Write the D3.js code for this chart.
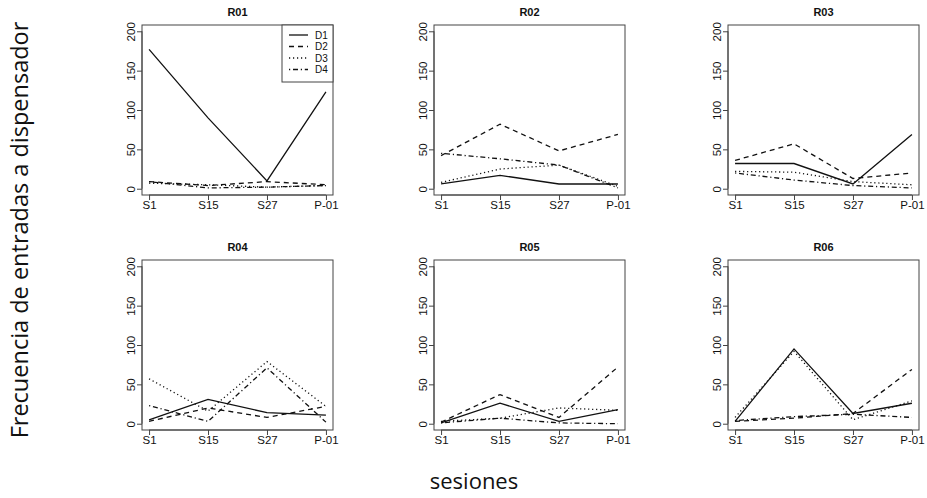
<!DOCTYPE html>
<html>
<head>
<meta charset="utf-8">
<script src="https://cdn.jsdelivr.net/npm/d3@7"></script>
<style>
  body { margin: 0; background: #fff; }
  svg { display: block; }
</style>
</head>
<body>
<svg></svg>
<script>
const sessions = ["S1", "S15", "S27", "P-01"];
const series = ["D1", "D2", "D3", "D4"];
const panelNames = ["R01", "R02", "R03", "R04", "R05", "R06"];
const yTicks = [0, 50, 100, 150, 200];

// one row per series (D1..D4), one value per session
const r01 = [[177, 90, 10, 123], [9, 4, 9, 5], [7, 5, 2, 4], [9, 1, 2, 4]];
const r02 = [[6, 17, 6, 6], [42, 82, 48, 69], [8, 25, 30, 3], [45, 38, 30, 1]];
const r03 = [[32, 32, 6, 69], [36, 57, 13, 20], [22, 21, 9, 5], [20, 11, 4, 1]];
const r04 = [[5, 31, 14, 11], [3, 20, 8, 22], [57, 16, 79, 22], [23, 3, 71, 2]];
const r05 = [[1, 26, 3, 18], [2, 37, 8, 72], [3, 7, 20, 17], [1, 7, 1, 0]];
const r06 = [[3, 95, 13, 26], [3, 7, 13, 69], [8, 92, 5, 29], [4, 9, 12, 8]];
const panelData = [r01, r02, r03, r04, r05, r06];

const svgWidth = 927;
const svgHeight = 498;
const svg = d3.select("svg")
    .attr("width", svgWidth)
    .attr("height", svgHeight);

const colLeft = [142, 434, 728];
const rowTop = [25, 260];
const boxW = 191;
const boxH = 170;

const dashes = [null, "5,4", "1.2,2.8", "1.2,2.8,5,2.8"];
const tickFont = "'Liberation Sans', Arial, sans-serif";

panelNames.forEach((name, p) => {
    const left = colLeft[p % 3];
    const top = rowTop[Math.floor(p / 3)];

    const x = d3.scaleLinear().domain([0.88, 4.12]).range([left, left + boxW]);
    const y = d3.scaleLinear().domain([-8, 208]).range([top + boxH, top]);

    const g = svg.append("g");

    // box
    g.append("rect")
        .attr("x", left)
        .attr("y", top)
        .attr("width", boxW)
        .attr("height", boxH)
        .attr("fill", "none")
        .attr("stroke", "#444")
        .attr("stroke-width", 1);

    // x axis
    const xa = g.append("g")
        .attr("transform", "translate(0," + (top + boxH) + ")")
        .call(d3.axisBottom(x)
            .tickValues([1, 2, 3, 4])
            .tickFormat(d => sessions[d - 1])
            .tickSize(5)
            .tickSizeOuter(0)
            .tickPadding(1));
    xa.select(".domain").remove();
    xa.append("line")
        .attr("x1", x(1)).attr("x2", x(4))
        .attr("stroke", "#444");
    xa.selectAll("line").attr("stroke", "#444");
    xa.selectAll("text")
        .attr("fill", "#111")
        .attr("font-family", tickFont)
        .attr("font-size", 11.5);

    // y axis
    const ya = g.append("g")
        .attr("transform", "translate(" + left + ",0)")
        .call(d3.axisLeft(y)
            .tickValues(yTicks)
            .tickSize(5)
            .tickSizeOuter(0));
    ya.select(".domain").remove();
    ya.append("line")
        .attr("y1", y(0)).attr("y2", y(200))
        .attr("stroke", "#444");
    ya.selectAll("line").attr("stroke", "#444");
    ya.selectAll(".tick text")
        .attr("x", null)
        .attr("dy", null)
        .attr("text-anchor", "middle")
        .attr("transform", "translate(-7,0) rotate(-90)")
        .attr("fill", "#111")
        .attr("font-family", tickFont)
        .attr("font-size", 11.5);

    // title
    g.append("text")
        .attr("x", left + boxW / 2)
        .attr("y", top - 9)
        .attr("text-anchor", "middle")
        .attr("font-family", tickFont)
        .attr("font-weight", "bold")
        .attr("font-size", 11)
        .attr("fill", "#111")
        .text(name);

    // lines
    const line = d3.line()
        .x((d, i) => x(i + 1))
        .y(d => y(d));

    g.selectAll("path.series")
        .data(panelData[p])
        .enter().append("path")
        .attr("class", "series")
        .attr("d", line)
        .attr("fill", "none")
        .attr("stroke", "#111")
        .attr("stroke-width", 1.3)
        .attr("stroke-dasharray", (d, i) => dashes[i]);

    // legend in R01
    if (p === 0) {
        const lw = 51, lh = 57;
        const lg = g.append("g")
            .attr("transform", "translate(" + (left + boxW - lw) + "," + top + ")");
        lg.append("rect")
            .attr("width", lw)
            .attr("height", lh)
            .attr("fill", "#fff")
            .attr("stroke", "#444");
        const item = lg.selectAll("g")
            .data(series)
            .enter().append("g")
            .attr("transform", (d, i) => "translate(0," + (10 + i * 11.5) + ")");
        item.append("line")
            .attr("x1", 7).attr("x2", 26)
            .attr("stroke", "#111")
            .attr("stroke-width", 1.3)
            .attr("stroke-dasharray", (d, i) => dashes[i]);
        item.append("text")
            .attr("x", 33)
            .attr("dy", "0.35em")
            .attr("font-family", tickFont)
            .attr("font-size", 10)
            .attr("fill", "#111")
            .text(d => d);
    }
});

// shared axis titles
svg.append("text")
    .attr("transform", "translate(28,230) rotate(-90)")
    .attr("text-anchor", "middle")
    .attr("font-family", "'Open Sans', sans-serif")
    .attr("font-size", 23.5)
    .attr("fill", "#111")
    .text("Frecuencia de entradas a dispensador");

svg.append("text")
    .attr("x", 474)
    .attr("y", 489)
    .attr("text-anchor", "middle")
    .attr("font-family", "'Open Sans', sans-serif")
    .attr("font-size", 22)
    .attr("fill", "#111")
    .text("sesiones");
</script>
</body>
</html>
